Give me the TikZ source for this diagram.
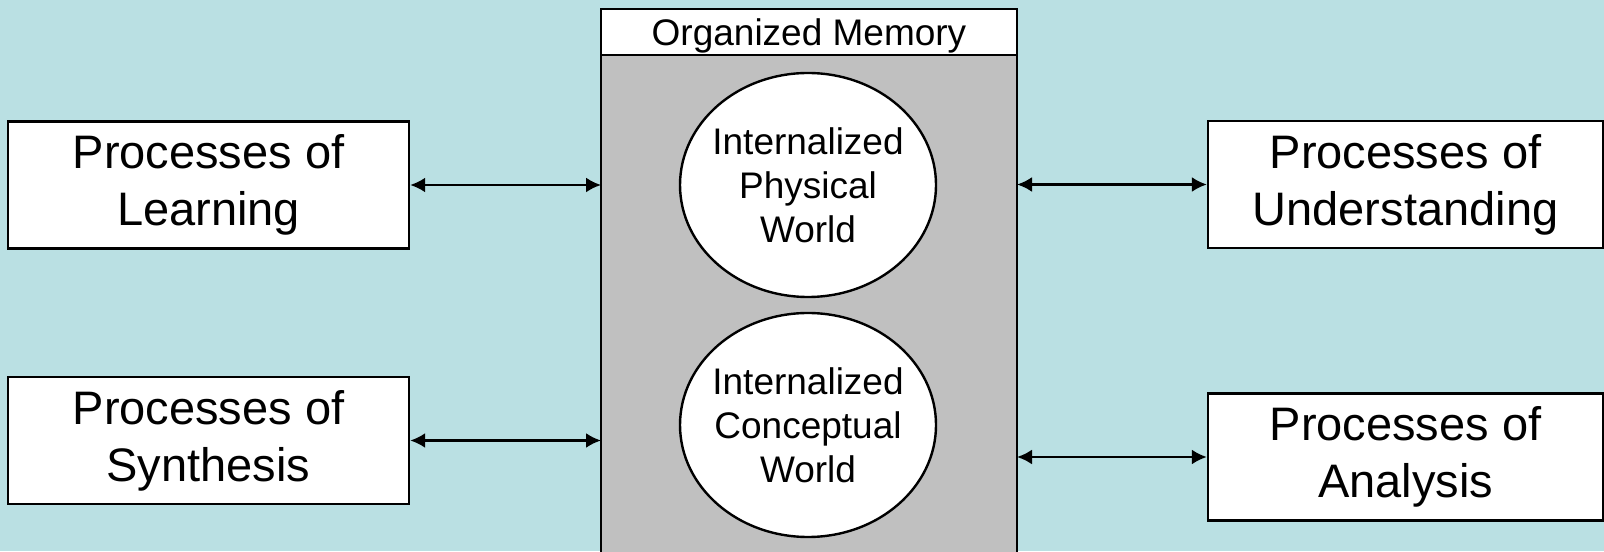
\documentclass[tikz,border=0pt]{standalone}
\usepackage{fontspec}
\setmainfont{Liberation Sans}
\usetikzlibrary{arrows.meta, positioning, shapes.geometric}
\definecolor{bgblue}{RGB}{186,224,227}
\definecolor{memgray}{RGB}{192,192,192}
\newcommand{\bigtext}{\fontsize{23.5}{28.5}\selectfont}
\newcommand{\smalltext}{\fontsize{18.5}{22}\selectfont}

\begin{document}
\begin{tikzpicture}[x=0.5pt,y=0.5pt,procstyle/.style={
	draw,rectangle,fill=white,line width=1.2pt,minimum width=200.5pt,minimum height=63.5pt,align=center,font=\bigtext
},worldstyle/.style={
	draw,ellipse,fill=white,line width=1.2pt,minimum width=128pt,minimum height=112pt,inner sep=-3pt,align=center,font=\smalltext
},memstyle/.style={
	draw,rectangle,line width=1.2pt,outer sep=0pt,minimum width=208pt
},linkstyle/.style={
	{Latex[length=7.5pt,width=7.5pt]}-{Latex[length=7.5pt,width=7.5pt]},line width=1.2pt
}]

	\useasboundingbox (0,0) rectangle (1604,551);
	\fill[bgblue] (0,0) rectangle (1604,551);

	\node[memstyle,fill=white,minimum height=23pt,text depth=0pt,font=\smalltext] at (809,519) (memhead) {Organized Memory};
	\node[memstyle,fill=memgray,minimum height=270pt,below=0pt of memhead] (membody) {};

	\node[worldstyle] at (808,366) (phys) {Internalized\\Physical\\World};
	\node[worldstyle] at (808,126) (concept) {Internalized\\Conceptual\\World};

	\node[procstyle] at (208.5,366) (learn) {Processes of\\Learning};
	\node[procstyle] at (208.5,110.5) (synth) {Processes of\\Synthesis};
	\node[procstyle,minimum width=197.5pt] at (1405.5,366.5) (under) {Processes of\\Understanding};
	\node[procstyle,minimum width=197.5pt] at (1405.5,94) (analysis) {Processes of\\Analysis};

	\draw[linkstyle] (learn.east) -- (learn.east -| membody.west);
	\draw[linkstyle] (synth.east) -- (synth.east -| membody.west);
	\draw[linkstyle] (under.west) -- (under.west -| membody.east);
	\draw[linkstyle] (analysis.west) -- (analysis.west -| membody.east);
\end{tikzpicture}
\end{document}
